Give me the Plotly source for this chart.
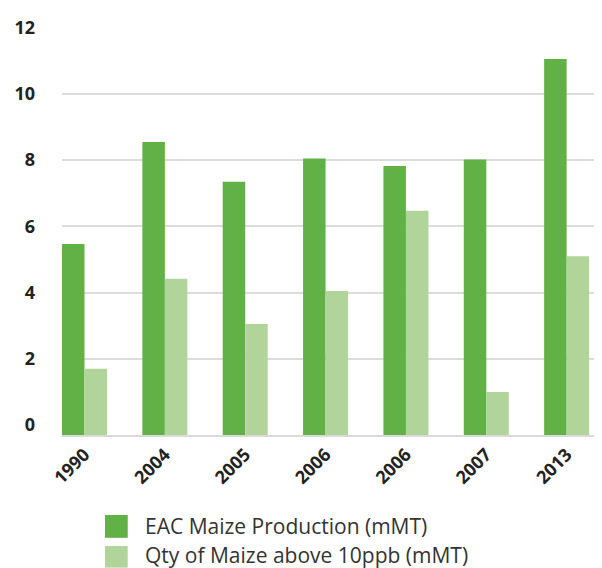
import plotly.graph_objects as go

categories = ["1990", "2004", "2005", "2006", "2006", "2007", "2013"]
eac_production = [5.47, 8.55, 7.35, 8.05, 7.82, 8.02, 11.05]
qty_above_10ppb = [1.7, 4.42, 3.05, 4.05, 6.47, 1.0, 5.1]
series_names = ["EAC Maize Production (mMT)", "Qty of Maize above 10ppb (mMT)"]
colors = ["#62b146", "#b1d49b"]
y_ticks = [0, 2, 4, 6, 8, 10, 12]

Y_FLOOR = -0.3
x_pos = list(range(len(categories)))

fig = go.Figure()
for name, vals, col in zip(series_names, [eac_production, qty_above_10ppb], colors):
    fig.add_trace(go.Bar(
        x=x_pos, y=[v - Y_FLOOR for v in vals], base=Y_FLOOR,
        name=name, marker=dict(color=col, line=dict(width=0)),
        showlegend=False, customdata=vals,
        hovertemplate="%{customdata}<extra>" + name + "</extra>",
    ))

# custom legend (large squares)
legend_rows = [(-0.196, -0.252), (-0.272, -0.325)]
text_y = [-0.224, -0.293]
for (y0, y1), ty, name, col in zip(legend_rows, text_y, series_names, colors):
    fig.add_shape(type="rect", xref="paper", yref="paper",
                  x0=0.0796, x1=0.1217, y0=y1, y1=y0,
                  fillcolor=col, line=dict(width=0))
    fig.add_annotation(xref="paper", yref="paper", x=0.15, y=ty,
                       text=name, showarrow=False, xanchor="left", yanchor="middle",
                       font=dict(family="Open Sans", size=21, color="#333333"))

fig.update_layout(
    width=594, height=560,
    margin=dict(l=54, r=0, t=19, b=133),
    paper_bgcolor="white", plot_bgcolor="white",
    barmode="group", bargap=0.44, bargroupgap=0,
    font=dict(family="Open Sans", color="#222222"),
    xaxis=dict(
        tickmode="array", tickvals=x_pos, ticktext=categories,
        range=[-0.28, 6.44], tickangle=-45,
        tickfont=dict(family="Open Sans", size=18, color="#222222", weight="bold"),
        showgrid=False, zeroline=False,
        showline=True, linecolor="#d9d9d9", linewidth=2, ticks="",
    ),
    yaxis=dict(
        range=[Y_FLOOR, 12.02], tickmode="array", tickvals=y_ticks,
        tickfont=dict(family="Open Sans", size=18, color="#222222", weight="bold"),
        showgrid=True, gridcolor="#dcdcdc", gridwidth=1.5,
        zeroline=True, zerolinecolor="white", zerolinewidth=3,
        ticklabelstandoff=26, showline=False,
    ),
)

fig.write_html("out.html")
